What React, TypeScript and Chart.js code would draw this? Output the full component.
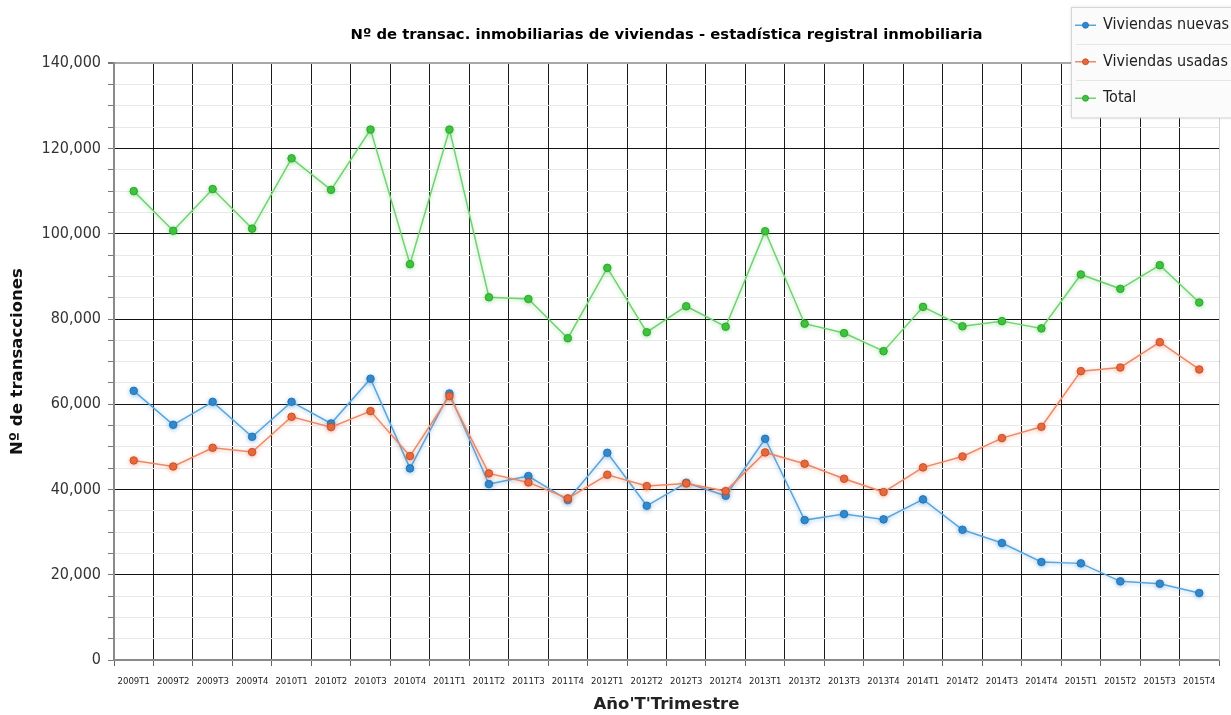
import React, { useEffect, useRef } from "react";
import { Chart, registerables } from "chart.js";

Chart.register(...registerables);

const categories = [
  "2009T1", "2009T2", "2009T3", "2009T4",
  "2010T1", "2010T2", "2010T3", "2010T4",
  "2011T1", "2011T2", "2011T3", "2011T4",
  "2012T1", "2012T2", "2012T3", "2012T4",
  "2013T1", "2013T2", "2013T3", "2013T4",
  "2014T1", "2014T2", "2014T3", "2014T4",
  "2015T1", "2015T2", "2015T3", "2015T4",
];

const viviendasNuevas = [
  63150, 55180, 60570, 52370,
  60570, 55500, 66000, 44950,
  62540, 41270, 43150, 37520,
  48620, 36180, 41580, 38530,
  51900, 32830, 34240, 32990,
  37680, 30560, 27440, 22980,
  22670, 18450, 17900, 15710,
];

const viviendasUsadas = [
  46820, 45410, 49790, 48780,
  57060, 54640, 58390, 47840,
  61910, 43780, 41660, 37910,
  43460, 40800, 41430, 39630,
  48700, 46040, 42520, 39400,
  45190, 47760, 52060, 54710,
  67770, 68630, 74570, 68170,
];

const total = [
  110000, 100700, 110500, 101200,
  117700, 110300, 124450, 92860,
  124450, 85100, 84700, 75500,
  92000, 76900, 83000, 78200,
  100600, 78900, 76700, 72460,
  82850, 78300, 79500, 77800,
  90450, 87080, 92630, 83880,
];

const yTicksMax = 140000;
const yMajorStep = 20000;
const yMinorStep = 5000;

const titleText =
  "Nº de transac. inmobiliarias de viviendas - estadística registral inmobiliaria";
const yTitle = "Nº de transacciones";
const xTitle = "Año'T'Trimestre";

const seriesStyle = [
  { line: "#5ba6dc", point: "#2f88cf", border: "#1f6aa6", glow: "rgba(70,150,215,0.5)" },
  { line: "#eb8a66", point: "#e8683c", border: "#b84a22", glow: "rgba(232,110,70,0.45)" },
  { line: "#72d272", point: "#3cc43c", border: "#2a962a", glow: "rgba(80,200,80,0.45)" },
];

const REG = "'DejaVu Sans Condensed', 'DejaVu Sans', sans-serif";
const BOLD = "'DejaVu Sans', sans-serif";

const glowPlugin = {
  id: "glow",
  beforeDatasetDraw(chart: any, args: any) {
    const ctx = chart.ctx;
    ctx.save();
    ctx.shadowColor = seriesStyle[args.index].glow;
    ctx.shadowBlur = 4;
    ctx.shadowOffsetX = 0;
    ctx.shadowOffsetY = 1;
  },
  afterDatasetDraw(chart: any) {
    chart.ctx.restore();
  },
};

const framePlugin = {
  id: "frame",
  afterDatasetsDraw(chart: any) {
    const { ctx, chartArea } = chart;
    ctx.save();
    ctx.strokeStyle = "#d0d0d0";
    ctx.lineWidth = 1;
    ctx.beginPath();
    ctx.moveTo(chartArea.right + 0.5, chartArea.top);
    ctx.lineTo(chartArea.right + 0.5, chartArea.bottom);
    ctx.stroke();
    ctx.restore();
  },
};

const legendPlugin = {
  id: "boxLegend",
  afterDraw(chart: any) {
    const ctx = chart.ctx;
    const x0 = 1071;
    const y0 = 7;
    const w = 175;
    const rowH = 36.5;
    const h = rowH * 3 + 1;
    ctx.save();
    ctx.shadowColor = "rgba(0,0,0,0.12)";
    ctx.shadowBlur = 3;
    ctx.fillStyle = "#fbfbfb";
    ctx.fillRect(x0, y0, w, h);
    ctx.shadowColor = "transparent";
    ctx.strokeStyle = "#d6d6d6";
    ctx.lineWidth = 1;
    ctx.strokeRect(x0 + 0.5, y0 + 0.5, w, h);
    ctx.strokeStyle = "#e6e6e6";
    for (let i = 1; i < 3; i++) {
      const yy = Math.round(y0 + rowH * i) + 0.5;
      ctx.beginPath();
      ctx.moveTo(x0 + 5, yy);
      ctx.lineTo(x0 + w, yy);
      ctx.stroke();
    }
    chart.data.datasets.forEach((ds: any, i: number) => {
      const cy = y0 + rowH * i + rowH / 2;
      const st = seriesStyle[i];
      ctx.strokeStyle = st.line;
      ctx.lineWidth = 1.5;
      ctx.beginPath();
      ctx.moveTo(1075, cy);
      ctx.lineTo(1096, cy);
      ctx.stroke();
      ctx.fillStyle = st.point;
      ctx.strokeStyle = st.border;
      ctx.lineWidth = 0.8;
      ctx.beginPath();
      ctx.arc(1085.5, cy, 3, 0, Math.PI * 2);
      ctx.fill();
      ctx.stroke();
      ctx.fillStyle = "#222";
      ctx.font = `16px ${REG}`;
      ctx.textBaseline = "middle";
      ctx.textAlign = "left";
      ctx.fillText(ds.label, 1103, cy);
    });
    ctx.restore();
  },
};

export default function App() {
  const ref = useRef<HTMLCanvasElement | null>(null);

  useEffect(() => {
    if (!ref.current) return;
    const mk = (label: string, data: number[], i: number, order: number) => ({
      label,
      data,
      order,
      borderColor: seriesStyle[i].line,
      backgroundColor: seriesStyle[i].point,
      pointBackgroundColor: seriesStyle[i].point,
      pointBorderColor: seriesStyle[i].border,
      pointBorderWidth: 0.8,
      pointRadius: 3.8,
      borderWidth: 1.5,
      tension: 0,
      fill: false,
    });
    const chart = new Chart(ref.current, {
      type: "line",
      data: {
        labels: categories,
        datasets: [
          mk("Viviendas nuevas", viviendasNuevas, 0, 2),
          mk("Viviendas usadas", viviendasUsadas, 1, 1),
          mk("Total", total, 2, 0),
        ],
      },
      plugins: [glowPlugin, framePlugin, legendPlugin],
      options: {
        responsive: false,
        animation: false,
        layout: { padding: { left: 0, right: 12, top: 0, bottom: 0 } },
        plugins: {
          legend: { display: false },
          tooltip: { enabled: false },
          title: {
            display: true,
            text: titleText,
            fullSize: false,
            color: "#000",
            font: { family: BOLD, size: 14.8, weight: "bold" },
            padding: { top: 26, bottom: 19.5 },
          },
        },
        scales: {
          x: {
            type: "category",
            offset: true,
            afterFit: (s: any) => {
              s.height = 55;
            },
            grid: {
              offset: true,
              drawTicks: true,
              tickLength: 6,
              tickColor: "#666",
              color: (c: any) => (c.index === categories.length ? "#d0d0d0" : "#1a1a1a"),
              lineWidth: 1,
            },
            border: { color: "#8a8a8a", width: 2 },
            ticks: {
              autoSkip: false,
              maxRotation: 0,
              minRotation: 0,
              padding: 10,
              color: "#222",
              font: { family: REG, size: 9.5 },
            },
            title: {
              display: true,
              text: xTitle,
              color: "#222",
              font: { family: BOLD, size: 16.5, weight: "bold" },
              padding: { top: 0, bottom: 0 },
            },
          },
          y: {
            min: 0,
            max: yTicksMax,
            afterFit: (s: any) => {
              s.width = 114;
            },
            grid: {
              drawTicks: true,
              tickLength: 6,
              tickColor: "#777",
              color: (c: any) => {
                const v = c.tick ? c.tick.value : 0;
                if (v === yTicksMax) return "#a8a8a8";
                return v % yMajorStep === 0 ? "#111" : "#e8e8e8";
              },
              lineWidth: (c: any) => {
                const v = c.tick ? c.tick.value : 0;
                return v === yTicksMax ? 2 : 1;
              },
            },
            border: { color: "#8a8a8a", width: 2 },
            ticks: {
              stepSize: yMinorStep,
              autoSkip: false,
              padding: 7,
              color: "#333",
              font: { family: REG, size: 16 },
              callback: (v: any) =>
                Number(v) % yMajorStep === 0 ? Number(v).toLocaleString("en-US") : "",
            },
            title: {
              display: true,
              text: yTitle,
              color: "#111",
              font: { family: BOLD, size: 16.5, weight: "bold" },
              padding: { top: 8, bottom: 0 },
            },
          },
        },
      } as any,
    });
    return () => chart.destroy();
  }, []);

  return (
    <div style={{ position: "absolute", left: 0, top: 0, width: 1231, height: 715, background: "#fff" }}>
      <canvas ref={ref} width={1231} height={715} />
    </div>
  );
}
